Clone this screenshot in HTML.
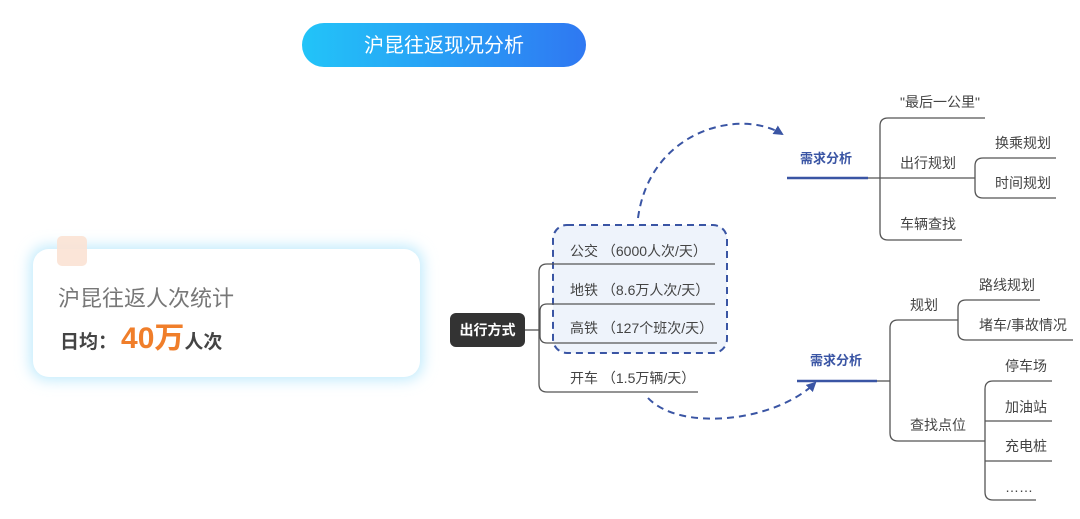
<!DOCTYPE html>
<html><head><meta charset="utf-8"><style>
html,body{margin:0;padding:0;background:#fff;}
body{width:1080px;height:514px;overflow:hidden;font-family:"Liberation Sans","Noto Sans CJK SC",sans-serif;}
</style></head><body>
<svg width="1080" height="514" viewBox="0 0 1080 514" xmlns="http://www.w3.org/2000/svg" font-family="Liberation Sans, Noto Sans CJK SC, sans-serif">
<defs>
<linearGradient id="g" x1="0" x2="1" y1="0" y2="0"><stop offset="0" stop-color="#22c4f8"/><stop offset="1" stop-color="#2f78f2"/></linearGradient>
<filter id="glow" x="-20%" y="-30%" width="140%" height="160%"><feGaussianBlur stdDeviation="7"/></filter>
<marker id="ar" viewBox="0 0 10 10" refX="8" refY="5" markerWidth="5" markerHeight="5" orient="auto"><path d="M0,0 L10,5 L0,10 z" fill="#3a55a4"/></marker>
</defs>
<rect x="302" y="23" width="284" height="44" rx="22" fill="url(#g)"/>
<text x="444" y="52" font-size="20" fill="#fff" text-anchor="middle">沪昆往返现况分析</text>

<rect x="30" y="246" width="393" height="134" rx="18" fill="#bfeafc" filter="url(#glow)"/>
<rect x="33" y="249" width="387" height="128" rx="16" fill="#fff"/>
<rect x="57" y="236" width="30" height="30" rx="5" fill="#fbe2d4" opacity="0.9"/>
<text x="58" y="306" font-size="22" fill="#777">沪昆往返人次统计</text>
<text x="60" y="348" font-size="19" font-weight="bold" fill="#444">日均：<tspan dx="4" font-size="30" fill="#f07e2a">40万</tspan>人次</text>

<rect x="553" y="225" width="174" height="128" rx="14" fill="#eef3fb" stroke="#3a55a4" stroke-width="2" stroke-dasharray="7,5"/>
<g fill="none" stroke="#555" stroke-width="1.3">
<path d="M525,330 H539"/>
<path d="M715,264 H547 Q539,264 539,272 V384 Q539,392 547,392 H698"/>
<path d="M715,304 H547 Q540,304 540,311 V336 Q540,343 547,343 H717"/>
<path d="M868,178 H975"/>
<path d="M985,118 H888 Q880,118 880,126 V232 Q880,240 888,240 H962"/>
<path d="M1056,158 H983 Q975,158 975,166 V190 Q975,198 983,198 H1056"/>
<path d="M877,381 H890"/>
<path d="M958,320 H898 Q890,320 890,328 V433 Q890,441 898,441 H985"/>
<path d="M1040,300 H966 Q958,300 958,308 V332 Q958,340 966,340 H1073"/>
<path d="M1052,381 H993 Q985,381 985,389 V492 Q985,500 993,500 H1036"/>
<path d="M985,421 H1052 M985,461 H1052"/>
</g>
<rect x="450" y="313" width="75" height="34" rx="6" fill="#333"/>
<text x="487.5" y="335" font-size="14" font-weight="bold" fill="#fff" text-anchor="middle">出行方式</text>
<g font-size="14" fill="#444">
<text x="570" y="256">公交 （6000人次/天）</text>
<text x="570" y="295">地铁 （8.6万人次/天）</text>
<text x="570" y="333">高铁 （127个班次/天）</text>
<text x="570" y="383">开车 （1.5万辆/天）</text>
<text x="900" y="107">"最后一公里"</text>
<text x="900" y="168">出行规划</text>
<text x="900" y="229">车辆查找</text>
<text x="995" y="148">换乘规划</text>
<text x="995" y="188">时间规划</text>
<text x="910" y="310">规划</text>
<text x="910" y="430">查找点位</text>
<text x="979" y="290">路线规划</text>
<text x="979" y="330">堵车/事故情况</text>
<text x="1005" y="371">停车场</text>
<text x="1005" y="412">加油站</text>
<text x="1005" y="451">充电桩</text>
<text x="1005" y="492">……</text>
</g>
<g font-size="13" font-weight="bold" fill="#3a55a4">
<text x="800" y="163">需求分析</text>
<text x="810" y="365">需求分析</text>
</g>
<path d="M787,178 H868" stroke="#3a55a4" stroke-width="2.5"/>
<path d="M797,381 H877" stroke="#3a55a4" stroke-width="2.5"/>
<g fill="none" stroke="#3a55a4" stroke-width="2" stroke-dasharray="7,5">
<path d="M638,218 C650,130 740,108 782,134" marker-end="url(#ar)"/>
<path d="M648,398 C680,432 775,422 815,383" marker-end="url(#ar)"/>
</g>
</svg>
</body></html>
